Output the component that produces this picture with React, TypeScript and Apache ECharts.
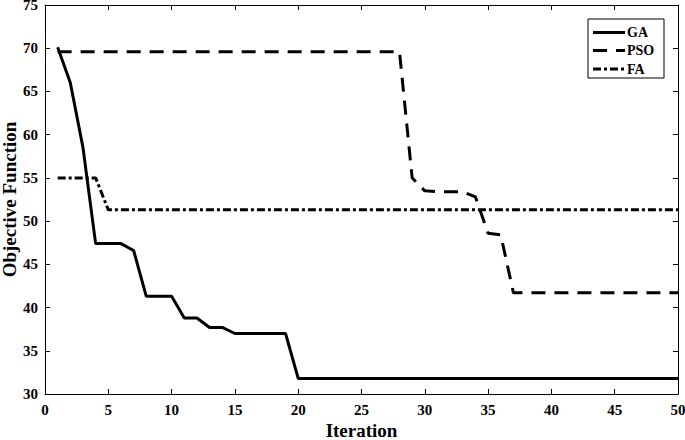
import React, { useEffect, useRef } from "react";
import * as echarts from "echarts";

const iterations: number[] = Array.from({ length: 50 }, (_, i) => i + 1);

const gaValues: number[] = [
  70.1, 66.0, 58.5, 47.4, 47.4, 47.4, 46.6, 41.3, 41.3, 41.3,
  38.8, 38.8, 37.7, 37.7, 37.0, 37.0, 37.0, 37.0, 37.0, 31.8,
  31.8, 31.8, 31.8, 31.8, 31.8, 31.8, 31.8, 31.8, 31.8, 31.8,
  31.8, 31.8, 31.8, 31.8, 31.8, 31.8, 31.8, 31.8, 31.8, 31.8,
  31.8, 31.8, 31.8, 31.8, 31.8, 31.8, 31.8, 31.8, 31.8, 31.8,
];

const psoValues: number[] = [
  69.6, 69.6, 69.6, 69.6, 69.6, 69.6, 69.6, 69.6, 69.6, 69.6,
  69.6, 69.6, 69.6, 69.6, 69.6, 69.6, 69.6, 69.6, 69.6, 69.6,
  69.6, 69.6, 69.6, 69.6, 69.6, 69.6, 69.6, 69.6, 55.0, 53.5,
  53.4, 53.4, 53.4, 52.8, 48.6, 48.4, 41.7, 41.7, 41.7, 41.7,
  41.7, 41.7, 41.7, 41.7, 41.7, 41.7, 41.7, 41.7, 41.7, 41.7,
];

const faValues: number[] = [
  55.0, 55.0, 55.0, 55.0, 51.3, 51.3, 51.3, 51.3, 51.3, 51.3,
  51.3, 51.3, 51.3, 51.3, 51.3, 51.3, 51.3, 51.3, 51.3, 51.3,
  51.3, 51.3, 51.3, 51.3, 51.3, 51.3, 51.3, 51.3, 51.3, 51.3,
  51.3, 51.3, 51.3, 51.3, 51.3, 51.3, 51.3, 51.3, 51.3, 51.3,
  51.3, 51.3, 51.3, 51.3, 51.3, 51.3, 51.3, 51.3, 51.3, 51.3,
];

const seriesNames: string[] = ["GA", "PSO", "FA"];

const FONT = "'Liberation Serif', 'Times New Roman', serif";

const PSO_DASH = [14, 9];
const FA_DASH = [8, 3, 3, 3];

export default function App() {
  const ref = useRef<HTMLDivElement>(null);

  useEffect(() => {
    if (!ref.current) return;
    const chart = echarts.init(ref.current, null, { renderer: "svg" });
    const pair = (vals: number[]) => iterations.map((x, i) => [x, vals[i]]);
    const tickInside = { show: true, inside: true, length: 5, lineStyle: { color: "#000", width: 1 } };
    const axisLine = { show: true, onZero: false, lineStyle: { color: "#000", width: 1 } };
    const labelStyle = { color: "#000", fontFamily: FONT, fontWeight: "bold" as const, fontSize: 15 };
    const dashes = [null, PSO_DASH, FA_DASH];

    const legendX = 588;
    const legendY = 19;
    const rowY = [13.5, 31.5, 50];
    const legendGraphic = {
      type: "group",
      x: legendX,
      y: legendY,
      children: [
        {
          type: "rect",
          shape: { x: 0, y: 0, width: 76, height: 59 },
          style: { fill: "#fff", stroke: "#000", lineWidth: 1 },
        },
        ...seriesNames.flatMap((name, i) => [
          {
            type: "line",
            shape: { x1: 5, y1: rowY[i], x2: 37, y2: rowY[i] },
            style: { stroke: "#000", lineWidth: 3, lineDash: dashes[i] || undefined },
          },
          {
            type: "text",
            x: 39,
            y: rowY[i],
            style: {
              text: name,
              fill: "#000",
              font: `bold 14px ${FONT}`,
              textVerticalAlign: "middle",
              verticalAlign: "middle",
            },
          },
        ]),
      ],
    };

    chart.setOption({
      animation: false,
      backgroundColor: "#fff",
      grid: { left: 45, right: 7, top: 5, bottom: 46, containLabel: false, outerBoundsMode: "none" },
      graphic: [legendGraphic],
      xAxis: [
        {
          type: "value",
          min: 0,
          max: 50,
          interval: 5,
          position: "bottom",
          name: "Iteration",
          nameLocation: "middle",
          nameGap: 27,
          nameMoveOverlap: false,
          nameTextStyle: { color: "#000", fontFamily: FONT, fontWeight: "bold", fontSize: 19 },
          axisLine,
          axisTick: tickInside,
          axisLabel: { ...labelStyle, margin: 8 },
          splitLine: { show: false },
        },
        {
          type: "value",
          min: 0,
          max: 50,
          interval: 5,
          position: "top",
          axisLine,
          axisTick: tickInside,
          axisLabel: { show: false },
          splitLine: { show: false },
        },
      ],
      yAxis: [
        {
          type: "value",
          min: 30,
          max: 75,
          interval: 5,
          position: "left",
          name: "Objective Function",
          nameLocation: "middle",
          nameGap: 26,
          nameMoveOverlap: false,
          nameTextStyle: { color: "#000", fontFamily: FONT, fontWeight: "bold", fontSize: 19 },
          axisLine,
          axisTick: tickInside,
          axisLabel: { ...labelStyle, margin: 7 },
          splitLine: { show: false },
        },
        {
          type: "value",
          min: 30,
          max: 75,
          interval: 5,
          position: "right",
          axisLine,
          axisTick: tickInside,
          axisLabel: { show: false },
          splitLine: { show: false },
        },
      ],
      series: [
        {
          name: "GA",
          type: "line",
          data: pair(gaValues),
          symbol: "none",
          lineStyle: { color: "#000", width: 3, type: "solid" },
          itemStyle: { color: "#000" },
        },
        {
          name: "PSO",
          type: "line",
          data: pair(psoValues),
          symbol: "none",
          lineStyle: { color: "#000", width: 3, type: PSO_DASH },
          itemStyle: { color: "#000" },
        },
        {
          name: "FA",
          type: "line",
          data: pair(faValues),
          symbol: "none",
          lineStyle: { color: "#000", width: 3, type: FA_DASH },
          itemStyle: { color: "#000" },
        },
      ],
    });
    return () => chart.dispose();
  }, []);

  return <div ref={ref} style={{ width: 685, height: 440, position: "absolute", left: 0, top: 0 }} />;
}
